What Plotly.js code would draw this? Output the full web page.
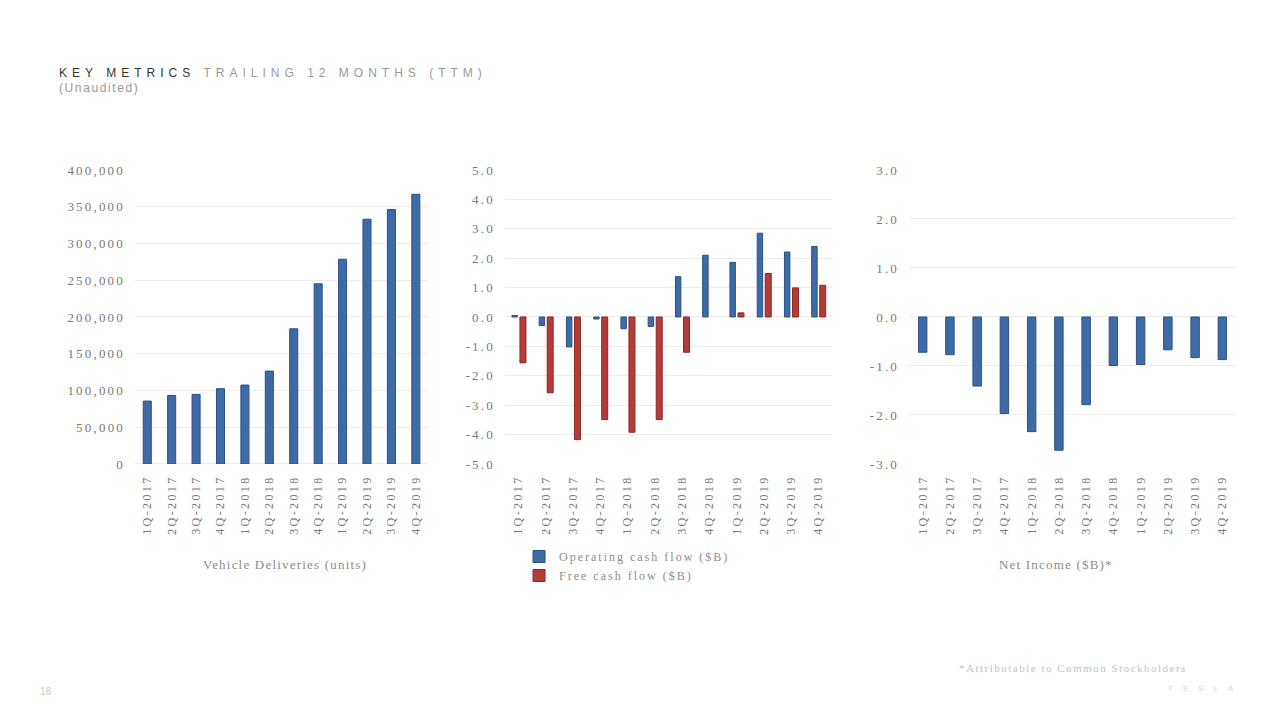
<!DOCTYPE html>
<html>
<head>
<meta charset="utf-8">
<script src="https://cdn.plot.ly/plotly-3.0.1.min.js"></script>
<style>
  html, body { margin:0; padding:0; background:#fff; }
  #chart { width:1280px; height:720px; }
  .xtick text, .x2tick text, .x3tick text { letter-spacing: 2.4px; }
  .ytick text, .y2tick text, .y3tick text { letter-spacing: 2.2px; }
  .legendtext { letter-spacing: 2px; }
</style>
</head>
<body>
<div id="chart"></div>
<script>
// ---- data ----
const quarters = ["1Q-2017","2Q-2017","3Q-2017","4Q-2017","1Q-2018","2Q-2018","3Q-2018","4Q-2018","1Q-2019","2Q-2019","3Q-2019","4Q-2019"];
const deliveries = [85600, 93300, 94700, 102400, 107400, 126400, 183900, 245100, 278600, 333000, 346100, 366900];
const operatingCashFlow = [0.05, -0.29, -1.02, -0.07, -0.40, -0.32, 1.37, 2.10, 1.86, 2.85, 2.21, 2.40];
const freeCashFlow = [-1.56, -2.58, -4.17, -3.49, -3.92, -3.49, -1.20, 0.00, 0.14, 1.48, 0.99, 1.08];
const netIncome = [-0.72, -0.77, -1.41, -1.97, -2.34, -2.72, -1.79, -0.99, -0.97, -0.67, -0.83, -0.87];

const ticks1Vals = [0,50000,100000,150000,200000,250000,300000,350000,400000];
const ticks1Text = ["0","50,000","100,000","150,000","200,000","250,000","300,000","350,000","400,000"];
const ticks2Vals = [-5,-4,-3,-2,-1,0,1,2,3,4,5];
const ticks2Text = ["-5.0","-4.0","-3.0","-2.0","-1.0","0.0","1.0","2.0","3.0","4.0","5.0"];
const ticks3Vals = [-3,-2,-1,0,1,2,3];
const ticks3Text = ["-3.0","-2.0","-1.0","0.0","1.0","2.0","3.0"];

// ---- styles ----
const blue = '#3c6ba6', blueEdge = '#2b5186';
const red = '#b53b39', redEdge = '#8a2927';
const serif = '"Liberation Serif", "DejaVu Serif", serif';
const sans = '"Liberation Sans", Arial, sans-serif';
const tickFont = {family: serif, size: 12, color: '#7a7a7a'};
const grid = '#ececec';
const edgeWidths = vals => vals.map(v => v === 0 ? 0 : 1);

const traces = [
  {type:'bar', x: quarters, y: deliveries, xaxis:'x', yaxis:'y', width:0.33,
   marker:{color: blue, line:{color: blueEdge, width:1}}, showlegend:false, name:'Vehicle Deliveries'},
  {type:'bar', x: quarters, y: operatingCashFlow, xaxis:'x2', yaxis:'y2', width:0.2, offset:-0.245,
   marker:{color: blue, line:{color: blueEdge, width: edgeWidths(operatingCashFlow)}}, name:'Operating cash flow ($B)'},
  {type:'bar', x: quarters, y: freeCashFlow, xaxis:'x2', yaxis:'y2', width:0.22, offset:0.05,
   marker:{color: red, line:{color: redEdge, width: edgeWidths(freeCashFlow)}}, name:'Free cash flow ($B)'},
  {type:'bar', x: quarters, y: netIncome, xaxis:'x3', yaxis:'y3', width:0.31,
   marker:{color: blue, line:{color: blueEdge, width:1}}, showlegend:false, name:'Net Income'}
];

function xax(domain, anchor) {
  return {domain: domain, anchor: anchor, type:'category', tickangle:-90, showgrid:false,
          showline:false, zeroline:false, ticks:'', tickfont: tickFont, ticklabelstandoff: 8,
          fixedrange:true};
}
function yax(domain, anchor, range, vals, text) {
  return {domain: domain, anchor: anchor, range: range, tickmode:'array', tickvals: vals, ticktext: text,
          showgrid:true, gridcolor: grid, gridwidth:1, zeroline:true, zerolinecolor: grid, zerolinewidth:1,
          showline:false, ticks:'', tickfont:{family: serif, size: 13, color:'#7a7a7a'},
          ticklabelstandoff: 9, fixedrange:true};
}
const yDom = [0.3556, 0.7639];

const layout = {
  width:1280, height:720,
  margin:{l:0, r:0, t:0, b:0},
  paper_bgcolor:'#ffffff', plot_bgcolor:'#ffffff',
  barmode:'overlay',
  xaxis: xax([0.1055, 0.3344], 'y'),
  yaxis: yax(yDom, 'x', [0, 400000], ticks1Vals, ticks1Text),
  xaxis2: xax([0.3945, 0.6500], 'y2'),
  yaxis2: yax(yDom, 'x2', [-5, 5], ticks2Vals, ticks2Text),
  xaxis3: xax([0.7102, 0.9656], 'y3'),
  yaxis3: yax(yDom, 'x3', [-3, 3], ticks3Vals, ticks3Text),
  showlegend:true,
  legend:{x: 0.4055, y: 1 - 542/720, xanchor:'left', yanchor:'top', bgcolor:'rgba(0,0,0,0)',
          font:{family: serif, size: 12, color:'#8c8c8c'}, tracegroupgap:0, itemwidth:30},
  annotations:[
    {xref:'paper', yref:'paper', x:57/1280, y:1-73/720, xanchor:'left', yanchor:'middle', showarrow:false,
     text:'<span style="letter-spacing:5px;color:#333333">KEY METRICS&nbsp;</span><span style="letter-spacing:5px;color:#9a9a9a">TRAILING 12 MONTHS (TTM)</span>',
     font:{family: sans, size: 12, color:'#333333'}},
    {xref:'paper', yref:'paper', x:57/1280, y:1-88/720, xanchor:'left', yanchor:'middle', showarrow:false,
     text:'<span style="letter-spacing:1.6px">(Unaudited)</span>',
     font:{family: sans, size: 12, color:'#9a9a9a'}},
    {xref:'paper', yref:'paper', x:285/1280, y:1-564/720, xanchor:'center', yanchor:'middle', showarrow:false,
     text:'<span style="letter-spacing:1.2px">Vehicle Deliveries (units)</span>',
     font:{family: serif, size: 13, color:'#8c8c8c'}},
    {xref:'paper', yref:'paper', x:1056/1280, y:1-564/720, xanchor:'center', yanchor:'middle', showarrow:false,
     text:'<span style="letter-spacing:1.2px">Net Income ($B)*</span>',
     font:{family: serif, size: 13, color:'#8c8c8c'}},
    {xref:'paper', yref:'paper', x:957/1280, y:1-668/720, xanchor:'left', yanchor:'middle', showarrow:false,
     text:'<span style="letter-spacing:1.5px">*Attributable to Common Stockholders</span>',
     font:{family: serif, size: 11, color:'#c4c4c4'}},
    {xref:'paper', yref:'paper', x:1245/1280, y:1-688/720, xanchor:'right', yanchor:'middle', showarrow:false,
     text:'<span style="letter-spacing:10px">TESLA</span>',
     font:{family: sans, size: 8, color:'#d6d6d6'}},
    {xref:'paper', yref:'paper', x:38/1280, y:1-691/720, xanchor:'left', yanchor:'middle', showarrow:false,
     text:'18', font:{family: sans, size: 10, color:'#c8c8c8'}}
  ]
};

Plotly.newPlot('chart', traces, layout, {displayModeBar:false, staticPlot:true});
</script>
</body>
</html>
